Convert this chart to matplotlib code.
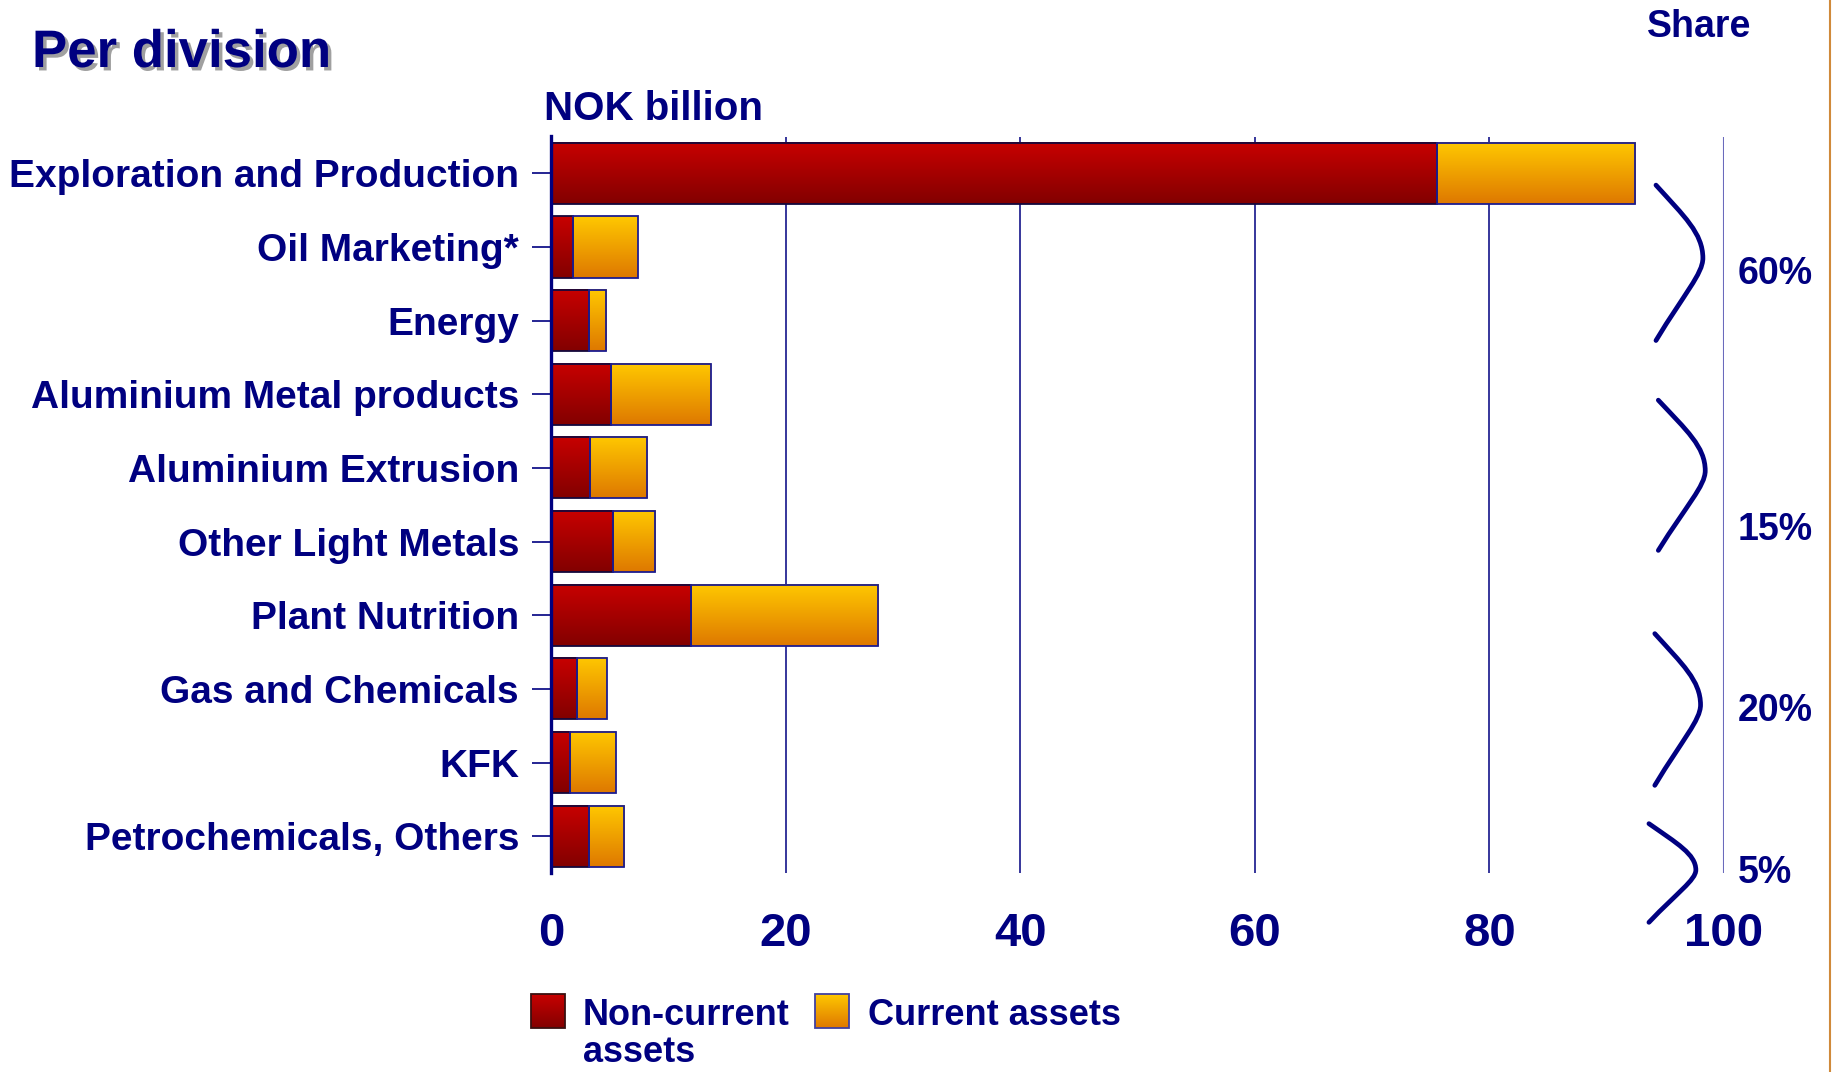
import numpy as np
import matplotlib
matplotlib.use("Agg")
import matplotlib.pyplot as plt
import matplotlib.patheffects as pe
from matplotlib.colors import LinearSegmentedColormap
from matplotlib.path import Path
from matplotlib.patches import PathPatch, Rectangle

plt.rcParams['font.family'] = ['Liberation Sans', 'DejaVu Sans']
plt.rcParams['font.weight'] = 'bold'

NAVY = '#000080'

# assets per division, NOK billion
DIVISIONS = ["Exploration and Production", "Oil Marketing*", "Energy",
             "Aluminium Metal products", "Aluminium Extrusion",
             "Other Light Metals", "Plant Nutrition", "Gas and Chemicals",
             "KFK", "Petrochemicals, Others"]
NON_CURRENT = [75.5, 1.9, 3.25, 5.15, 3.3, 5.3, 11.9, 2.2, 1.65, 3.2]
CURRENT = [16.9, 5.5, 1.45, 8.45, 4.9, 3.6, 16.0, 2.55, 3.85, 3.05]
X_TICKS = [0, 20, 40, 60, 80, 100]

# share of total per group of divisions
SHARE_LABELS = ["60%", "15%", "20%", "5%"]
SHARE_Y = [1.50, 4.98, 7.43, 9.64]
# brace spans in row units: (top, bottom, x left, x apex)
BRACES = [(0.16, 2.27, 94.2, 98.2),
          (3.08, 5.12, 94.4, 98.4),
          (6.25, 8.31, 94.1, 98.0),
          (8.83, 10.17, 93.6, 97.6)]

W, H = 1832, 1072
fig = plt.figure(figsize=(W / 100, H / 100), dpi=100)
ax = fig.add_axes([551 / W, 1 - 873 / H, (1724 - 551) / W, (873 - 136.5) / H])

red_cmap = LinearSegmentedColormap.from_list('red', ['#c80000', '#820000'])
orange_cmap = LinearSegmentedColormap.from_list('orange', ['#ffc800', '#de7800'])
grad = np.linspace(0, 1, 256).reshape(-1, 1)

y = np.arange(len(DIVISIONS))
red_bars = ax.barh(y, NON_CURRENT, height=0.83, color='none',
                   edgecolor='#14083c', linewidth=1.3, zorder=3)
orange_bars = ax.barh(y, CURRENT, left=NON_CURRENT, height=0.83, color='none',
                      edgecolor='#1c1c90', linewidth=1.3, zorder=3)


def fill_gradient(bars, cmap):
    for bar in bars:
        x0, y0 = bar.get_x(), bar.get_y()
        w, h = bar.get_width(), bar.get_height()
        ax.imshow(grad, cmap=cmap, extent=(x0, x0 + w, y0 + h, y0),
                  origin='upper', aspect='auto', interpolation='bilinear',
                  zorder=2)


fill_gradient(red_bars, red_cmap)
fill_gradient(orange_bars, orange_cmap)

ax.set_xlim(0, 100)
ax.set_ylim(9.5, -0.5)
ax.set_aspect('auto')

ax.set_yticks(y, DIVISIONS)
ax.set_xticks(X_TICKS)
ax.tick_params(axis='y', length=14, width=1.2, color=NAVY, pad=9,
               labelsize=28, labelcolor=NAVY)
ax.tick_params(axis='x', length=0, pad=28, labelsize=34, labelcolor=NAVY)

for side in ['top', 'right', 'bottom']:
    ax.spines[side].set_visible(False)
ax.spines['left'].set_color(NAVY)
ax.spines['left'].set_linewidth(2.4)
ax.spines['left'].set_zorder(4)

ax.set_axisbelow(True)
ax.xaxis.grid(True, color=NAVY, linewidth=1.1)
ax.get_xgridlines()[-1].set_color('#6a6abc')
ax.get_xgridlines()[-1].set_linewidth(1.5)

# braces grouping the divisions, with their share
for (top, bot, xl, xr), label, ly in zip(BRACES, SHARE_LABELS, SHARE_Y):
    h = bot - top
    ym = top + 0.47 * h
    verts = [(xl, top),
             (xl + 0.6 * (xr - xl), top + 0.2 * h), (xr, ym - 0.16 * h), (xr, ym),
             (xr, ym + 0.1 * h), (xl + 0.6 * (xr - xl), bot - 0.3 * h), (xl, bot)]
    codes = [Path.MOVETO] + [Path.CURVE4] * 6
    ax.add_patch(PathPatch(Path(verts, codes), facecolor='none', edgecolor=NAVY,
                           linewidth=3.4, capstyle='round', clip_on=False, zorder=5))
    ax.text(101.2, ly, label, fontsize=27, color=NAVY, ha='left',
            va='baseline', clip_on=False)

# overlay in pixel units for headings and legend
lax = fig.add_axes([0, 0, 1, 1], facecolor='none')
lax.set_xlim(0, W)
lax.set_ylim(H, 0)
lax.axis('off')

lax.text(32, 67, "Per division", fontsize=38, color=NAVY, ha='left', va='baseline',
         path_effects=[pe.SimplePatchShadow(offset=(2.5, -2.5), shadow_rgbFace='#a0a0a0',
                                            alpha=1.0), pe.Normal()])
lax.text(544, 120, "NOK billion", fontsize=29, color=NAVY, ha='left', va='baseline')
lax.text(1647, 37, "Share", fontsize=27, color=NAVY, ha='left', va='baseline')

for x0, cmap, edge in [(531, red_cmap, '#3a1010'), (815, orange_cmap, '#4040a0')]:
    lax.imshow(grad, cmap=cmap, extent=(x0, x0 + 34, 1028, 994), origin='upper',
               aspect='auto', interpolation='bilinear', zorder=2)
    lax.add_patch(Rectangle((x0, 994), 34, 34, facecolor='none', edgecolor=edge,
                            linewidth=1.3, zorder=3))
lax.set_xlim(0, W)
lax.set_ylim(H, 0)
lax.text(583, 1025, "Non-current", fontsize=26, color=NAVY, ha='left', va='baseline')
lax.text(583, 1062, "assets", fontsize=26, color=NAVY, ha='left', va='baseline')
lax.text(868, 1025, "Current assets", fontsize=26, color=NAVY, ha='left', va='baseline')

# slide border on the right
lax.plot([1830, 1830], [0, H], color='#d08a3a', linewidth=1.5)

fig.savefig('out.png', dpi=100)
